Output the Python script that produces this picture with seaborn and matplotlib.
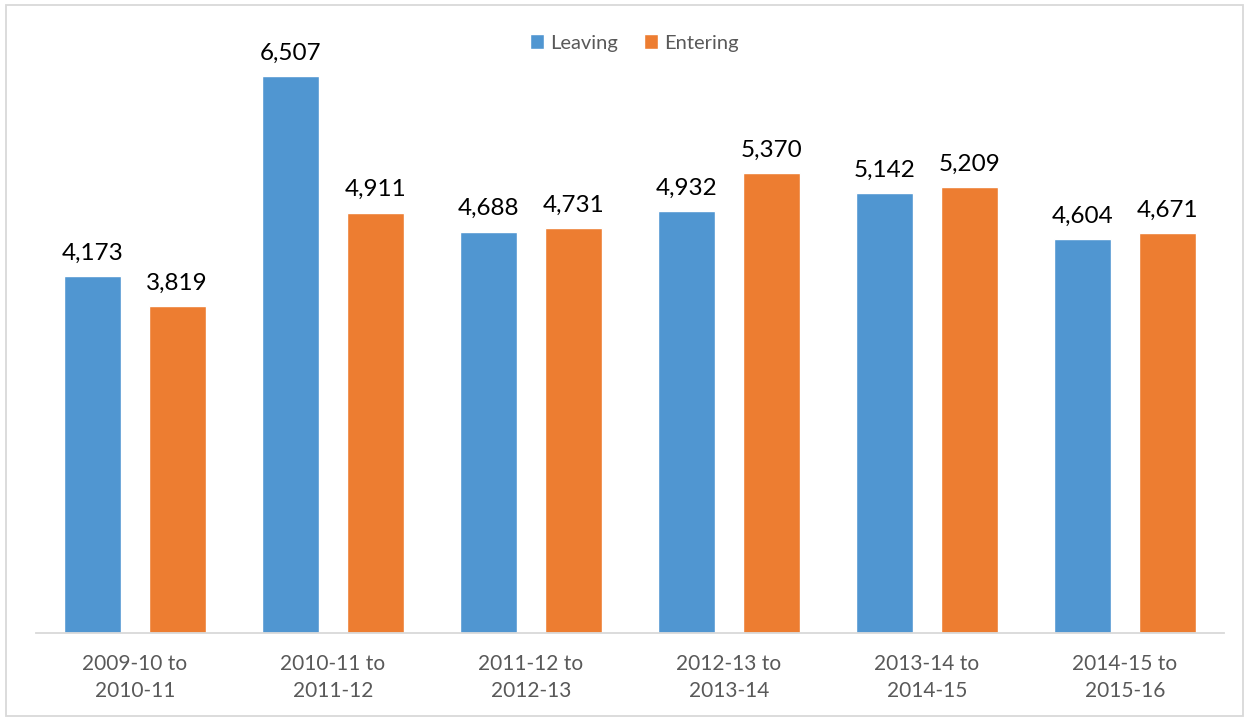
import matplotlib

matplotlib.use("Agg")
import matplotlib.pyplot as plt
import pandas as pd
import seaborn as sns
from matplotlib.patches import Rectangle

periods = [
    "2009-10 to\n2010-11",
    "2010-11 to\n2011-12",
    "2011-12 to\n2012-13",
    "2012-13 to\n2013-14",
    "2013-14 to\n2014-15",
    "2014-15 to\n2015-16",
]
leaving = [4173, 6507, 4688, 4932, 5142, 4604]
entering = [3819, 4911, 4731, 5370, 5209, 4671]

df = pd.concat(
    [
        pd.DataFrame({"period": periods, "count": leaving, "kind": "Leaving"}),
        pd.DataFrame({"period": periods, "count": entering, "kind": "Entering"}),
    ]
)

sns.set_theme(style="white")
plt.rcParams["font.family"] = ["Lato", "DejaVu Sans"]

fig = plt.figure(figsize=(12.5, 7.21), dpi=100)
ax = fig.add_axes([36 / 1250, 88 / 721, 1188 / 1250, 599 / 721])

sns.barplot(
    data=df,
    x="period",
    y="count",
    hue="kind",
    palette=["#5096D1", "#ED7D31"],
    width=0.853,
    gap=0.325,
    saturation=1,
    ax=ax,
)

for cont in ax.containers:
    ax.bar_label(cont, labels=[f"{v:,.0f}" for v in cont.datavalues],
                 padding=9, fontsize=17.5, color="black")

ax.set_ylim(0, 7000)
ax.set_xlim(-0.5, len(periods) - 0.5)
ax.set_xlabel("")
ax.set_ylabel("")
ax.set_yticks([])
ax.tick_params(axis="x", labelsize=15, labelcolor="#595959", pad=15, length=0)
for lbl in ax.get_xticklabels():
    lbl.set_linespacing(1.45)
sns.despine(ax=ax, left=True)
ax.spines["bottom"].set_color("#D9D9D9")
ax.spines["bottom"].set_linewidth(1.3)

ax.legend(
    loc="center",
    bbox_to_anchor=(634 / 1250, 1 - 43 / 721),
    bbox_transform=fig.transFigure,
    ncol=2,
    frameon=False,
    fontsize=14.5,
    labelcolor="#595959",
    handlelength=0.7,
    handleheight=0.7,
    handletextpad=0.3,
    columnspacing=1.3,
)

fig.patches.append(
    Rectangle((6 / 1250, 5 / 721), 1237 / 1250, 711 / 721,
              transform=fig.transFigure, fill=False,
              edgecolor="#D9D9D9", linewidth=1.3)
)

fig.savefig("out.png", dpi=100)
